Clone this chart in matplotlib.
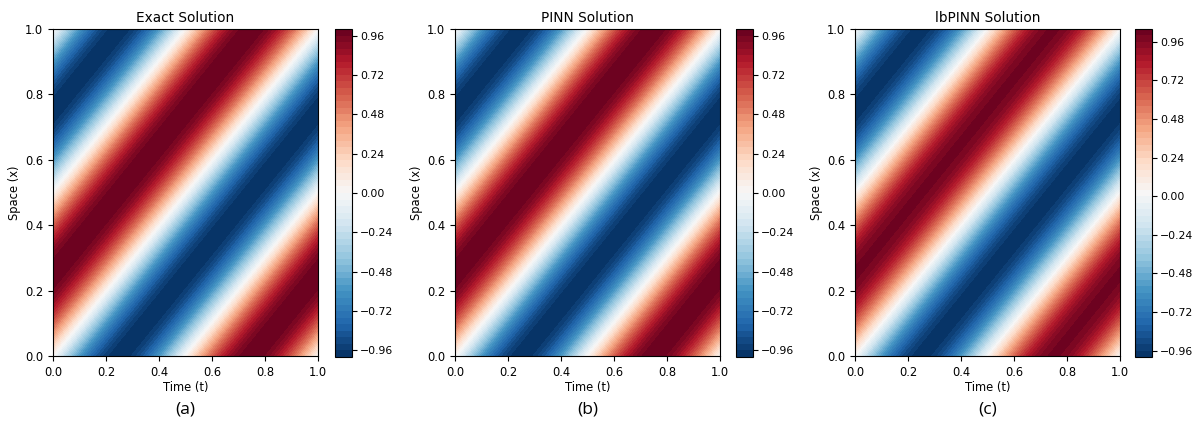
"""
Exact vs PINN vs lbPINN solution fields for the advection problem
"""

import numpy as np
from matplotlib import pyplot as plt

# grid in time (t) and space (x)
t = np.linspace(0.0, 1.0, 300)
x = np.linspace(0.0, 1.0, 300)

# travelling wave u = amp * sin(2*pi*(x - t) + phase) + offset, per solution
titles = ["Exact Solution", "PINN Solution", "lbPINN Solution"]
panel_tags = ["(a)", "(b)", "(c)"]
amplitudes = [1.0, 0.998, 1.0]
phases = [0.0, 0.0, 0.0]
offsets = [0.0, 0.0, 0.009]
level_tops = [1.0, 1.0, 1.04]
level_bottom = -1.0
level_step = 0.04

xticks = [0.0, 0.2, 0.4, 0.6, 0.8, 1.0]

W, H = 1194, 426
fig = plt.figure(figsize=(W / 100, H / 100), dpi=100)

ax_lefts = [53, 455, 855]
cb_lefts = [335, 736, 1135]
ax_w = 265
ax_top, ax_bot = 29, 356

T, X = np.meshgrid(t, x)

for i in range(3):
    ax = fig.add_axes([ax_lefts[i] / W, (H - ax_bot) / H, ax_w / W, (ax_bot - ax_top) / H])
    cax = fig.add_axes([cb_lefts[i] / W, (H - ax_bot - 1) / H, 17 / W, (ax_bot - ax_top + 1) / H])

    u = amplitudes[i] * np.sin(2 * np.pi * (X - T) + phases[i]) + offsets[i]
    n_levels = int(round((level_tops[i] - level_bottom) / level_step)) + 1
    levels = np.linspace(level_bottom, level_tops[i], n_levels)

    cf = ax.contourf(T, X, u, levels=levels, cmap="RdBu_r")
    cb = fig.colorbar(cf, cax=cax)
    cb.ax.tick_params(labelsize=7.8, pad=2.5)

    ax.set_title(titles[i], fontsize=9.8, pad=5)
    ax.set_xlabel("Time (t)", fontsize=8.3, labelpad=2)
    ax.set_ylabel("Space (x)", fontsize=8.3, labelpad=3)
    ax.set_xticks(xticks)
    ax.set_yticks(xticks)
    ax.tick_params(labelsize=8.3)

    fig.text((ax_lefts[i] + ax_w / 2) / W, (H - 410) / H, panel_tags[i],
             ha="center", va="center", fontsize=12.5, family="Open Sans")

plt.savefig("out.png", dpi=100)
plt.close()
